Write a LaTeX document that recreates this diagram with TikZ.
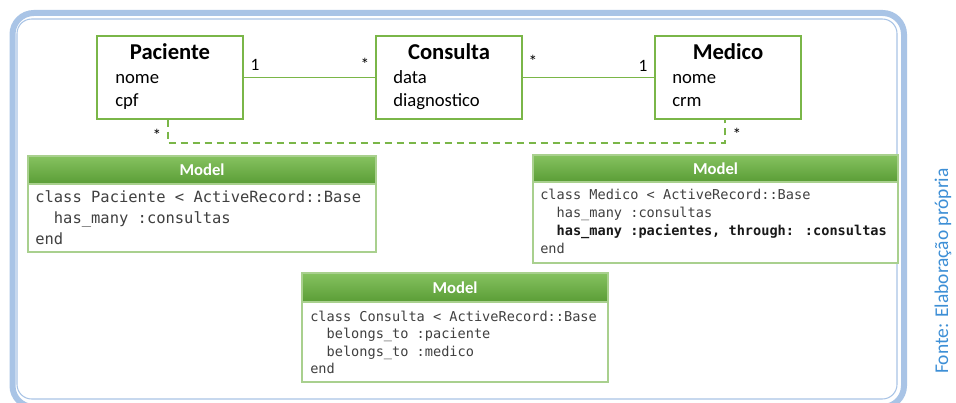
\documentclass[tikz,border=0pt]{standalone}
\usepackage{fontspec}
\setmainfont{Carlito}
\newfontfamily\monof{DejaVu Sans Mono}
\definecolor{framec}{HTML}{A9C4E6}
\definecolor{umlgreen}{HTML}{7AB648}
\definecolor{modelborder}{HTML}{A9D08E}
\definecolor{hdtop}{HTML}{86C260}
\definecolor{hdbot}{HTML}{5A9D36}
\definecolor{fonteblue}{HTML}{3D8FD6}
\definecolor{codegray}{HTML}{404040}
\begin{document}
\begin{tikzpicture}[x=0.75pt,y=-0.75pt,
  classbox/.style={draw=umlgreen, line width=1.1pt, fill=white, inner sep=0pt},
  ctitle/.style={font=\fontsize{17}{20}\selectfont\bfseries, inner sep=0pt, anchor=base},
  cattr/.style={font=\fontsize{14}{16}\selectfont, inner sep=0pt, anchor=base west},
  mult/.style={font=\fontsize{13}{15}\selectfont, inner sep=0pt, anchor=base},
  assoc/.style={draw=umlgreen, line width=1.1pt},
  dashline/.style={draw=umlgreen, line width=1.1pt, dash pattern=on 5.25pt off 3.75pt},
  modelbody/.style={draw=modelborder, line width=0.9pt, fill=white, inner sep=0pt},
  modelhead/.style={draw=modelborder, line width=0.9pt, top color=hdtop, bottom color=hdbot, inner sep=0pt, text=white, font=\fontsize{12.5}{14}\selectfont\bfseries},
  codebig/.style={font=\monof\fontsize{11.6}{14}\selectfont, text=codegray, inner sep=0pt, anchor=base west},
  codesmall/.style={font=\monof\fontsize{10.2}{12}\selectfont, text=codegray, inner sep=0pt, anchor=base west}
]
\useasboundingbox (0,0) rectangle (956,403);
\fill[white] (0,0) rectangle (956,403);
% frame
\draw[framec, line width=4.5pt, rounded corners=16pt] (12.5,13) rectangle (904,407);
\draw[framec, line width=0.8pt, rounded corners=11pt] (17,19) rectangle (897,399);

% class boxes
\node[classbox, minimum width=109.5pt, minimum height=62.25pt] (pac) at (170,77.5) {};
\node[classbox, minimum width=109.5pt, minimum height=62.25pt] (con) at (449,77.5) {};
\node[classbox, minimum width=109.5pt, minimum height=62.25pt] (med) at (728,77.5) {};

\node[ctitle] (pact) at (170,60) {Paciente};
\node[cattr] (paca1) at (115,84) {nome};
\node[cattr] (paca2) at (115,106.5) {cpf};
\node[ctitle] (cont) at (449,60) {Consulta};
\node[cattr] (cona1) at (393,84) {data};
\node[cattr] (cona2) at (393,106.5) {diagnostico};
\node[ctitle] (medt) at (728,60) {Medico};
\node[cattr] (meda1) at (672,84) {nome};
\node[cattr] (meda2) at (672,106.5) {crm};

% associations
\draw[assoc] (pac.east) -- (con.west);
\draw[assoc] (con.east) -- (med.west);
\node[mult] (m1) at (255,70) {1};
\node[mult] (m2) at (365,70) {*};
\node[mult] (m3) at (533,68) {*};
\node[mult] (m4) at (643,71) {1};

% dashed
\coordinate (dl) at (168,143);
\coordinate (dr) at (725,143);
\draw[dashline] (pac.south -| dl) -- (dl) -- (dr) -- (med.south -| dr);
\node[mult] (m5) at (157,141) {*};
\node[mult] (m6) at (737,140) {*};

% model boxes
\node[modelbody, minimum width=261pt, minimum height=51pt] (mb1) at (202,218) {};
\node[modelhead, minimum width=261pt, minimum height=21pt] (mh1) at (202,170) {Model};
\node[codebig] (c11) at (35,202) {class Paciente < ActiveRecord::Base};
\node[codebig] (c12) at (35,223) {\ \ has\_many :consultas};
\node[codebig] (c13) at (35,244) {end};

\node[modelbody, minimum width=273.75pt, minimum height=60.75pt] (mb2) at (715.5,222.5) {};
\node[modelhead, minimum width=273.75pt, minimum height=20.25pt] (mh2) at (715.5,168.5) {Model};
\node[codesmall] (c21) at (540,199) {class Medico < ActiveRecord::Base};
\node[codesmall] (c22) at (540,217) {\ \ has\_many :consultas};
\node[codesmall, text=black!90] (c23) at (540,235) {\ \ \bfseries has\_many :pacientes, through: :consultas};
\node[codesmall] (c24) at (540,253) {end};

\node[modelbody, minimum width=229.5pt, minimum height=60pt] (mb3) at (455,342) {};
\node[modelhead, minimum width=229.5pt, minimum height=21.75pt] (mh3) at (455,287.5) {Model};
\node[codesmall] (c31) at (310,321) {class Consulta < ActiveRecord::Base};
\node[codesmall] (c32) at (310,338.5) {\ \ belongs\_to :paciente};
\node[codesmall] (c33) at (310,356) {\ \ belongs\_to :medico};
\node[codesmall] (c34) at (310,373.5) {end};

% source
\node[rotate=90, text=fonteblue, font=\fontsize{14.6}{17}\selectfont, inner sep=0pt] (fonte) at (943,271) {Fonte: Elaboração própria};
\end{tikzpicture}
\end{document}
